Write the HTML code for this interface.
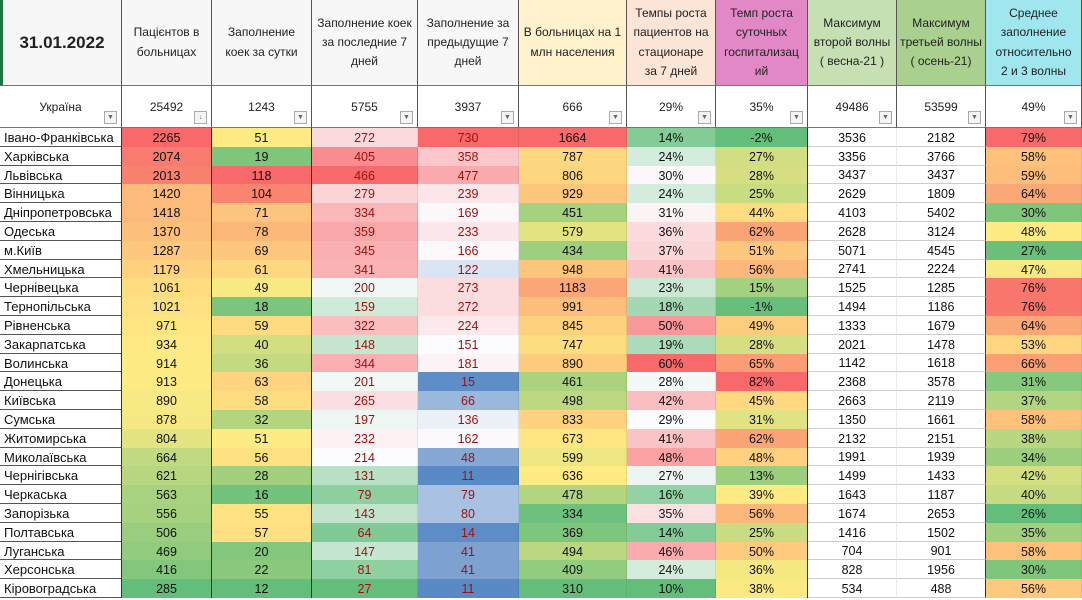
<!DOCTYPE html>
<html><head><meta charset="utf-8">
<style>
html,body{margin:0;padding:0;background:#fff;}
#t{position:relative;width:1082px;height:600px;overflow:hidden;font-family:"Liberation Sans","DejaVu Sans",sans-serif;}
.c{position:absolute;box-sizing:border-box;display:flex;align-items:center;justify-content:center;text-align:center;font-size:12.5px;color:#111;border-right:1px solid #d0d0d0;border-bottom:1px solid #d8d8d8;line-height:1.5;padding-top:2px;white-space:nowrap;}
.h{color:#222;font-size:12px;border-right:1px solid #555;border-bottom:1px solid #777;padding-top:0;white-space:pre-line;line-height:1.6;}
.dd{position:absolute;right:4px;bottom:3px;width:13px;height:13px;border:1px solid #aaa;background:#f4f4f4;box-sizing:border-box;font-size:7px;color:#666;line-height:11px;text-align:center;}
</style></head><body>
<div id="t"></div>
<script>
const names=["Івано-Франківська","Харківська","Львівська","Вінницька","Дніпропетровська","Одеська","м.Київ","Хмельницька","Чернівецька","Тернопільська","Рівненська","Закарпатська","Волинська","Донецька","Київська","Сумська","Житомирська","Миколаївська","Чернігівська","Черкаська","Запорізька","Полтавська","Луганська","Херсонська","Кіровоградська"];
const patients=[2265,2074,2013,1420,1418,1370,1287,1179,1061,1021,971,934,914,913,890,878,804,664,621,563,556,506,469,416,285];
const daily=[51,19,118,104,71,78,69,61,49,18,59,40,36,63,58,32,51,56,28,16,55,57,20,22,12];
const last7=[272,405,466,279,334,359,345,341,200,159,322,148,344,201,265,197,232,214,131,79,143,64,147,81,27];
const prev7=[730,358,477,239,169,233,166,122,273,272,224,151,181,15,66,136,162,48,11,79,80,14,41,41,11];
const perMln=[1664,787,806,929,451,579,434,948,1183,991,845,747,890,461,498,833,673,599,636,478,334,369,494,409,310];
const growth7=[14,24,30,24,31,36,37,41,23,18,50,19,60,28,42,29,41,48,27,16,35,14,46,24,10];
const dailyGrowth=[-2,27,28,25,44,62,51,56,15,-1,49,28,65,82,45,31,62,48,13,39,56,25,50,36,38];
const max2=[3536,3356,3437,2629,4103,2628,5071,2741,1525,1494,1333,2021,1142,2368,2663,1350,2132,1991,1499,1643,1674,1416,704,828,534];
const max3=[2182,3766,3437,1809,5402,3124,4545,2224,1285,1186,1679,1478,1618,3578,2119,1661,2151,1939,1433,1187,2653,1502,901,1956,488];
const avg=[79,58,59,64,30,48,27,47,76,76,64,53,66,31,37,58,38,34,42,40,26,35,58,30,56];
const headers=["31.01.2022","Пацієнтов в\nбольницах","Заполнение\nкоек за сутки","Заполнение коек\nза последние 7\nдней","Заполнение за\nпредыдущие 7\nдней","В больницах на 1\nмлн населения","Темпы роста\nпациентов на\nстационаре\nза 7 дней","Темп роста\nсуточных\nгоспитализац\nий","Максимум\nвторой волны\n( весна-21 )","Максимум\nтретьей волны\n( осень-21)","Среднее\nзаполнение\nотносительно\n2 и 3 волны"];
const totals=["Україна","25492","1243","5755","3937","666","29%","35%","49486","53599","49%"];

const xs=[0,122,212,312,418,519,627,716,808,897,986,1082];
const hdrBg=["#f7f7f7","#f7f7f7","#f7f7f7","#f7f7f7","#f7f7f7","#fff2cc","#fce4d6","#e388c6","#c6e0b4","#a9d08e","#9fe6ee"];
const R=[248,105,107],Y=[255,235,132],G=[99,190,123],W=[252,252,255],B=[90,138,198];
function mix(a,b,t){return 'rgb('+a.map((v,i)=>Math.round(v+(b[i]-v)*t)).join(',')+')';}
function scale(arr,lo,mid,hi){const s=[...arr].sort((a,b)=>a-b);const mn=s[0],mx=s[s.length-1],md=s[Math.floor(s.length/2)];
 return v=>v<=md?mix(lo,mid,(v-mn)/((md-mn)||1)):mix(mid,hi,(v-md)/((mx-md)||1));}
const cols=[
 {d:patients,f:scale(patients,G,Y,R),s:v=>v},
 {d:daily,f:scale(daily,G,Y,R),s:v=>v},
 {d:last7,f:scale(last7,G,W,R),s:v=>v,red:1},
 {d:prev7,f:scale(prev7,B,W,R),s:v=>v,red:1},
 {d:perMln,f:scale(perMln,G,Y,R),s:v=>v},
 {d:growth7,f:scale(growth7,G,W,R),s:v=>v+'%'},
 {d:dailyGrowth,f:scale(dailyGrowth,G,Y,R),s:v=>v+'%'},
 {d:max2,f:()=>'#fff',s:v=>v},
 {d:max3,f:()=>'#fff',s:v=>v},
 {d:avg,f:scale(avg,G,Y,R),s:v=>v+'%'}
];
const T=document.getElementById('t');
function cell(x,y,w,h,txt,bg,cls){const e=document.createElement('div');e.className='c '+(cls||'');
 e.style.cssText+=`left:${x}px;top:${y}px;width:${w}px;height:${h}px;background:${bg};`;e.textContent=txt;T.appendChild(e);return e;}
for(let i=0;i<11;i++){
 const e=cell(xs[i],0,xs[i+1]-xs[i],86,headers[i],hdrBg[i],'h');
 
 
 if(i==0){e.style.fontWeight='bold';e.style.fontSize='17px';e.style.borderLeft='3px solid #217346';}
 const t=cell(xs[i],86,xs[i+1]-xs[i],42,totals[i],'#fff','h');
 t.style.alignItems='flex-start';t.style.paddingTop='12px';
 
 
 const dd=document.createElement('div');dd.className='dd';dd.textContent=i==1?'↓':'▼';
 
 
 t.appendChild(dd);
}
const y0=128,rh=18.8;
for(let r=0;r<names.length;r++){
 const y=Math.round(y0+r*rh),h=Math.round(y0+(r+1)*rh)-y;
 const n=cell(0,y,122,h,names[r],'#fff');
 n.style.justifyContent='flex-start';n.style.paddingLeft='4px';n.style.borderRight='1px solid #333';n.style.borderBottom='1px solid #555';n.style.fontSize='13px';
 
 
 cols.forEach((c,i)=>{
  const v=c.d[r];
  const e=cell(xs[i+1],y,xs[i+2]-xs[i+1],h,c.s(v),c.f(v));
  
  
  e.style.borderRight=(i==0||i==1||i==6||i==8)?'1px solid #333':'1px solid rgba(0,0,0,0.08)';
  e.style.borderBottom=(i==7||i==8)?'1px solid #ccc':'none';
  if(c.red)e.style.color='#9c1010';
 });
}
</script>
</body></html>
